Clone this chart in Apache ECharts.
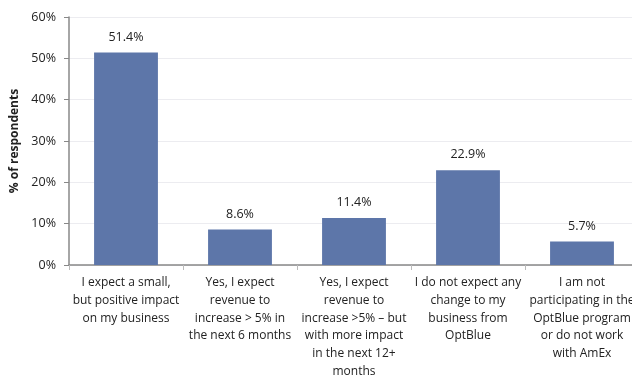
<!DOCTYPE html>
<html>
<head>
<meta charset="utf-8">
<script src="https://cdn.jsdelivr.net/npm/echarts@6/dist/echarts.min.js"></script>
<style>
  html, body { margin: 0; padding: 0; background: #fff; }
  #chart { width: 632px; height: 379px; }
</style>
</head>
<body>
<div id="chart"></div>
<script>
// Survey responses: expected impact of OptBlue on the business
const categories = [
  'I expect a small,\nbut positive impact\non my business',
  'Yes, I expect\nrevenue to\nincrease > 5% in\nthe next 6 months',
  'Yes, I expect\nrevenue to\nincrease >5% \u2013 but\nwith more impact\nin the next 12+\nmonths',
  'I do not expect any\nchange to my\nbusiness from\nOptBlue',
  'I am not\nparticipating in the\nOptBlue program\nor do not work\nwith AmEx'
];
const shares = [51.4, 8.6, 11.4, 22.9, 5.7];
const yTicks = { min: 0, max: 60, step: 10 };

const font = '"Open Sans", Lato, sans-serif';
const chart = echarts.init(document.getElementById('chart'));
chart.setOption({
  animation: false,
  grid: {
    left: 69, top: 17, bottom: 114, right: -7,
    containLabel: false, outerBoundsMode: 'none'
  },
  xAxis: {
    type: 'category',
    data: categories,
    axisLine: { lineStyle: { color: '#888', width: 1.5 } },
    axisTick: { show: true, length: 5, lineStyle: { color: '#bbb' }, interval: 0 },
    axisLabel: {
      interval: 0, margin: 9, color: '#222',
      fontFamily: font, fontSize: 12, lineHeight: 17.7
    }
  },
  yAxis: {
    type: 'value',
    min: yTicks.min, max: yTicks.max, interval: yTicks.step,
    name: '% of respondents',
    nameLocation: 'middle', nameRotate: 90, nameGap: 44,
    nameTextStyle: { fontFamily: font, fontSize: 12, fontWeight: 'bold', color: '#222' },
    axisLine: { show: true, lineStyle: { color: '#888', width: 1.5 } },
    axisTick: { show: true, length: 5, lineStyle: { color: '#888' } },
    axisLabel: { formatter: '{value}%', fontFamily: font, fontSize: 12.5, color: '#222', margin: 13 },
    splitLine: { lineStyle: { color: '#ececf0' } }
  },
  series: [{
    type: 'bar',
    data: shares,
    barWidth: '56%',
    itemStyle: { color: '#5d76a9' },
    label: {
      show: true, position: 'top', distance: 9,
      formatter: p => p.value.toFixed(1) + '%',
      fontFamily: font, fontSize: 12.5, color: '#222'
    }
  }]
});
</script>
</body>
</html>
